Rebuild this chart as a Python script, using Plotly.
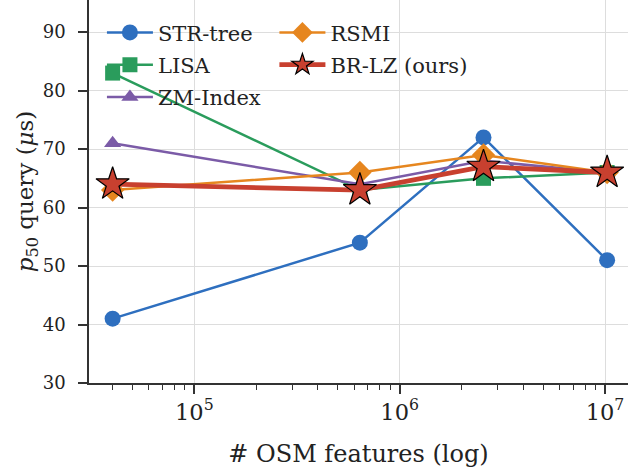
import plotly.graph_objects as go

n_features = [40000, 640000, 2560000, 10240000]
series_names = ["STR-tree", "LISA", "ZM-Index", "RSMI", "BR-LZ (ours)"]
str_tree = [41, 54, 72, 51]
lisa = [83, 63, 65, 66]
zm_index = [71, 64, 68, 66]
rsmi = [63, 66, 69, 66]
br_lz = [64, 63, 67, 66]

values = [str_tree, lisa, zm_index, rsmi, br_lz]
colors = ["#2e6fbf", "#2a9c5c", "#7b5ba7", "#e6861f", "#c8402f"]
symbols = ["circle", "square", "triangle-up", "diamond", "star"]
msizes = [16, 15, 15, 18, 25]
lwidths = [2.5, 2.5, 2.5, 2.5, 4.8]
legends = ["legend", "legend", "legend", "legend2", "legend2"]

FONT = "DejaVu Serif"
fig = go.Figure()
for i, name in enumerate(series_names):
    is_star = symbols[i] == "star"
    fig.add_trace(go.Scatter(
        x=n_features, y=values[i], name=name, mode="lines+markers",
        line=dict(color=colors[i], width=lwidths[i]),
        marker=dict(symbol=symbols[i], size=msizes[i], color=colors[i],
                    line=dict(color="black" if is_star else colors[i], width=1.2 if is_star else 0)),
        legend=legends[i], legendgroup=name,
    ))

fig.update_layout(
    width=628, height=468,
    margin=dict(l=89, r=0, t=0, b=85),
    paper_bgcolor="white", plot_bgcolor="white",
    font=dict(family=FONT, size=18, color="#222"),
    legend=dict(x=0.024, y=0.968, xanchor="left", yanchor="top",
                bgcolor="rgba(0,0,0,0)", itemwidth=46, tracegroupgap=2,
                font=dict(size=21, family=FONT)),
    legend2=dict(x=0.344, y=0.968, xanchor="left", yanchor="top",
                 bgcolor="rgba(0,0,0,0)", itemwidth=46, tracegroupgap=2,
                 font=dict(size=21, family=FONT)),
    xaxis=dict(type="log", range=[4.487, 7.112], dtick=1, exponentformat="power",
               automargin=False,
               showgrid=True, gridcolor="#dddddd", gridwidth=1.2,
               showline=True, linecolor="#333", linewidth=1.5,
               ticks="outside", ticklen=9, tickwidth=1.5, tickcolor="#333",
               minor=dict(ticks="outside", ticklen=5, tickwidth=1, tickcolor="#333", showgrid=False),
               tickfont=dict(size=18, family=FONT),
               title=dict(text="# OSM features (log)", font=dict(size=24, family=FONT), standoff=22),
               zeroline=False),
    yaxis=dict(range=[30, 95.5], tickvals=[30, 40, 50, 60, 70, 80, 90],
               automargin=False,
               showgrid=True, gridcolor="#dddddd", gridwidth=1.2,
               showline=True, linecolor="#333", linewidth=1.5,
               ticks="outside", ticklen=9, tickwidth=1.5, tickcolor="#333",
               ticklabelstandoff=9,
               tickfont=dict(size=18, family=FONT),
               title=dict(text="<i>p</i><sub>50</sub> query (<i>μ</i>s)", font=dict(size=23, family=FONT), standoff=3),
               zeroline=False),
)
fig.write_html("out.html", config={"displayModeBar": False},
               post_script="document.body.style.margin='0';document.body.style.overflow='hidden';")
